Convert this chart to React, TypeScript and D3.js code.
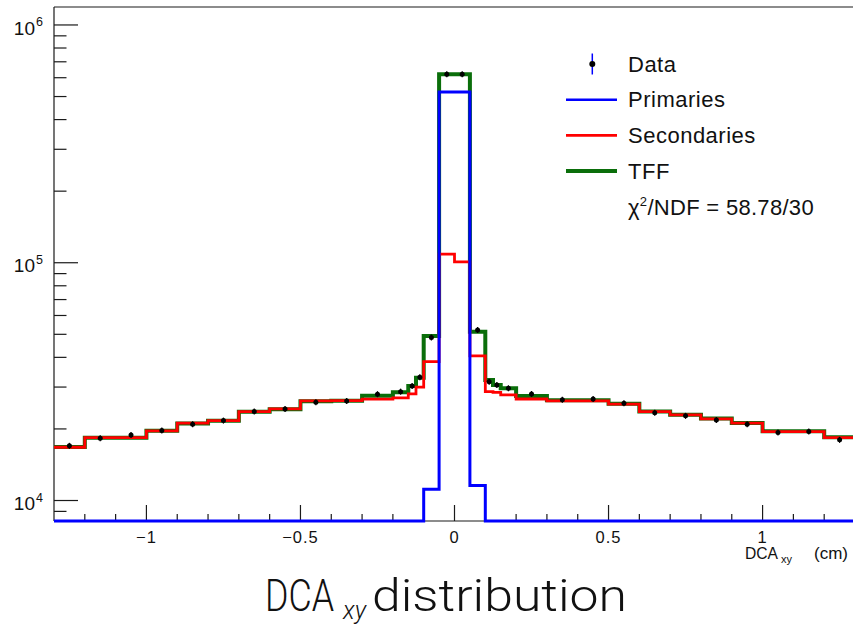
import React from "react";
import * as d3 from "d3";

// ---------- data ----------
const binEdges = [
  -1.3, -1.2, -1.1, -1.0, -0.9, -0.8, -0.7, -0.6, -0.5, -0.4, -0.3, -0.2,
  -0.15, -0.125, -0.1, -0.05, 0, 0.05, 0.1, 0.125, 0.15, 0.2,
  0.3, 0.4, 0.5, 0.6, 0.7, 0.8, 0.9, 1.0, 1.1, 1.2, 1.3,
];

const dataCounts = [
  16980, 18280, 18870, 19680, 20940, 21680, 23650, 24270, 25900, 26240, 28000,
  28700, 30300, 33000, 48500, 621000, 621000, 52100, 31600, 30600, 29650,
  28050, 26500, 26700, 25650, 23400, 22700, 21800, 20950, 19300, 19500, 17990,
];

const primaries = [
  0, 0, 0, 0, 0, 0, 0, 0, 0, 0, 800,
  1500, 2200, 2800, 11160, 522000, 522000, 11560, 3400, 2100, 1800,
  1300, 0, 0, 0, 0, 0, 0, 0, 0, 0, 0,
];

const secondaries = [
  16750, 18400, 18400, 19640, 21150, 21680, 23650, 24270, 26230, 26300, 26700,
  27000, 28100, 30000, 38400, 108700, 100900, 40600, 28700, 28500, 27800,
  26730, 26240, 26240, 25410, 23650, 22900, 22030, 21140, 19500, 19500, 18400,
];

const tffFit = [
  16800, 18350, 18350, 19650, 21100, 21650, 23600, 24200, 26150, 26300, 27600,
  28500, 30300, 32800, 49200, 621000, 621000, 51300, 32100, 30600, 29650,
  27540, 26400, 26400, 25500, 23700, 22950, 22100, 21200, 19550, 19550, 18450,
];

const xMajorTicks = [-1, -0.5, 0, 0.5, 1];
const xTickLabels = ["\u22121", "\u22120.5", "0", "0.5", "1"];
const yDecadeExponents = [4, 5, 6];
const legendLabels = ["Data", "Primaries", "Secondaries", "TFF"];
const chi2Value = "58.78/30";

// ---------- layout ----------
const W = 853;
const H = 628;
const PL = 54;
const PR = 855;
const PT = 7;
const PB = 521;

const BLUE = "#0000ff";
const RED = "#ff0000";
const GREEN = "#0a6e0a";
const AXIS = "#1a1a1a";
const SANS = "'Liberation Sans', Arial, Helvetica, sans-serif";

export default function App() {
  const x = d3.scaleLinear().domain([-1.3, 1.3]).range([PL, PR]);
  const y = d3.scaleLog().domain([8200, 1.19e6]).range([PB, PT]).clamp(true);

  const stepPath = (vals: number[]) => {
    const pts: [number, number][] = [];
    vals.forEach((v, i) => {
      pts.push([binEdges[i], v]);
      pts.push([binEdges[i + 1], v]);
    });
    return d3
      .line<[number, number]>()
      .x((d) => x(d[0]))
      .y((d) => y(d[1]))(pts) as string;
  };

  const centers = dataCounts.map((_, i) => (binEdges[i] + binEdges[i + 1]) / 2);

  const yTicks = y.ticks();
  const majorY = yDecadeExponents.map((e) => Math.pow(10, e));
  const minorY = yTicks.filter(
    (t) => !majorY.some((m) => Math.abs(m - t) / m < 1e-9)
  );
  const minorX = x
    .ticks(26)
    .filter((t) => t > -1.29 && t < 1.29)
    .filter((t) => !xMajorTicks.some((m) => Math.abs(m - t) < 1e-6));

  const legX = 566;
  const legTextX = 628;
  const legY0 = 64;
  const legDy = 35.7;

  return (
    <svg
      width={W}
      height={H}
      style={{ position: "absolute", left: 0, top: 0, background: "#fff" }}
    >
      {/* frame */}
      <line x1={PL} y1={PT} x2={W} y2={PT} stroke={AXIS} strokeWidth={1.2} />
      <line x1={PL} y1={PT} x2={PL} y2={PB} stroke={AXIS} strokeWidth={1.2} />
      <line x1={PL} y1={PB} x2={W} y2={PB} stroke={AXIS} strokeWidth={1.2} />

      {/* y ticks */}
      {majorY.map((t) => (
        <line key={"ym" + t} x1={PL} x2={PL + 24} y1={y(t)} y2={y(t)} stroke={AXIS} strokeWidth={1.2} />
      ))}
      {minorY.map((t) => (
        <line key={"yn" + t} x1={PL} x2={PL + 12.5} y1={y(t)} y2={y(t)} stroke={AXIS} strokeWidth={1.2} />
      ))}
      {yDecadeExponents.map((e) => {
        const yy = y(Math.pow(10, e));
        return (
          <g key={"yl" + e} fontFamily={SANS} fill="#111">
            <text x={35} y={yy + 9.6} fontSize={19} textAnchor="end">
              10
            </text>
            <text x={36} y={yy + 1} fontSize={12.5}>
              {e}
            </text>
          </g>
        );
      })}

      {/* x ticks */}
      {xMajorTicks.map((t, i) => (
        <g key={"xm" + t}>
          <line x1={x(t)} x2={x(t)} y1={PB} y2={PB - 16} stroke={AXIS} strokeWidth={1.2} />
          <text
            x={x(t)}
            y={543}
            fontFamily={SANS}
            fontSize={16.5}
            textAnchor="middle"
            letterSpacing={1}
            fill="#111"
          >
            {xTickLabels[i]}
          </text>
        </g>
      ))}
      {minorX.map((t) => (
        <line key={"xn" + t} x1={x(t)} x2={x(t)} y1={PB} y2={PB - 7} stroke={AXIS} strokeWidth={1.2} />
      ))}

      {/* x axis title */}
      <text y={559} fontFamily={SANS} fontSize={16} fill="#111">
        <tspan x={745} textLength={33} lengthAdjust="spacingAndGlyphs">DCA</tspan>
        <tspan x={781} dy={4} fontSize={11}>xy</tspan>
        <tspan x={814} dy={-4} fontSize={17}>(cm)</tspan>
      </text>

      {/* histograms */}
      <path d={stepPath(tffFit)} fill="none" stroke={GREEN} strokeWidth={4} />
      <path d={stepPath(secondaries)} fill="none" stroke={RED} strokeWidth={2.8} />
      <path d={stepPath(primaries)} fill="none" stroke={BLUE} strokeWidth={3} />

      {/* data points */}
      {dataCounts.map((v, i) => (
        <g key={"d" + i}>
          <line x1={x(centers[i])} x2={x(centers[i])} y1={y(v) - 3} y2={y(v) + 3} stroke="#000" strokeWidth={1.2} />
          <circle cx={x(centers[i])} cy={y(v)} r={2.5} fill="#000" />
        </g>
      ))}

      {/* legend */}
      <g fontFamily={SANS} fontSize={22} fill="#111">
        <line x1={592.3} x2={592.3} y1={legY0 - 10.5} y2={legY0 + 10.5} stroke={BLUE} strokeWidth={1.5} />
        <circle cx={592.3} cy={legY0} r={3} fill="#000" />
        <text x={legTextX} y={legY0 + 7.7} letterSpacing={0.5}>{legendLabels[0]}</text>

        <line x1={legX} x2={617} y1={legY0 + legDy} y2={legY0 + legDy} stroke={BLUE} strokeWidth={2.6} />
        <text x={legTextX} y={legY0 + legDy + 7.7} letterSpacing={0.5}>{legendLabels[1]}</text>

        <line x1={legX} x2={617} y1={legY0 + 2 * legDy} y2={legY0 + 2 * legDy} stroke={RED} strokeWidth={2.6} />
        <text x={legTextX} y={legY0 + 2 * legDy + 7.7} letterSpacing={0.5}>{legendLabels[2]}</text>

        <line x1={legX} x2={617} y1={legY0 + 3 * legDy} y2={legY0 + 3 * legDy} stroke={GREEN} strokeWidth={4} />
        <text x={legTextX} y={legY0 + 3 * legDy + 7.7} letterSpacing={0.5}>{legendLabels[3]}</text>

        <text x={legTextX} y={legY0 + 4 * legDy + 8} letterSpacing={0.3}>
          χ<tspan fontSize={13} dy={-9}>2</tspan>
          <tspan dy={9}>/NDF = {chi2Value}</tspan>
        </text>
      </g>

      {/* slide title */}
      <text
        y={611}
        fontFamily="Roboto, 'Open Sans', sans-serif"
        fontWeight={300}
        fontSize={45}
        fill="#111"
      >
        <tspan x={265} textLength={69} lengthAdjust="spacingAndGlyphs">DCA</tspan>
        <tspan x={343} dy={8} fontSize={25} fontStyle="italic" textLength={23} lengthAdjust="spacingAndGlyphs">xy</tspan>
        <tspan x={372} dy={-8} textLength={255} lengthAdjust="spacingAndGlyphs">distribution</tspan>
      </text>
    </svg>
  );
}
